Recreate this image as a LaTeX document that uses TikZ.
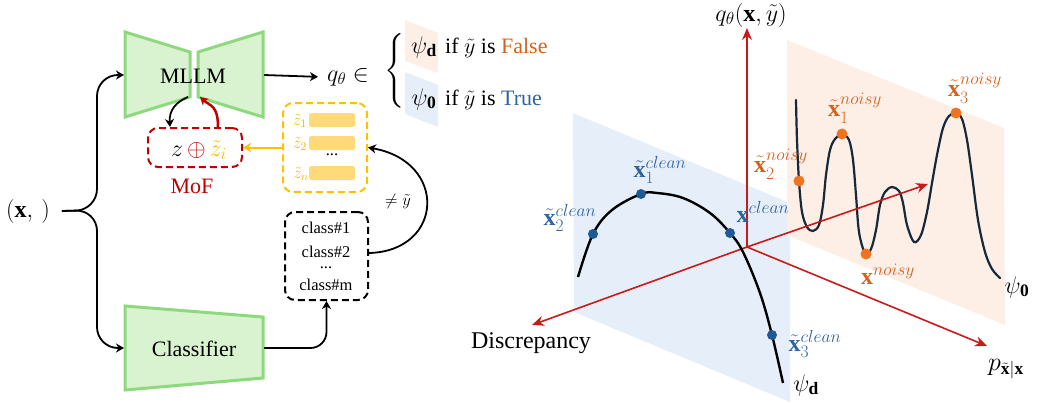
\RequirePackage{fix-cm}
\documentclass[tikz,border=0pt]{standalone}
\usepackage{amsmath}
\usepackage{fontspec}
\setmainfont{Liberation Serif}
\usetikzlibrary{arrows.meta}

% script-sized pieces of the point labels, set at a fixed size
\newcommand\lbs[1]{\text{\fontsize{17.5}{20}\selectfont$#1$}}

\definecolor{grnfill}{HTML}{D9F2D0}
\definecolor{grnline}{HTML}{8ED97E}
\definecolor{mofred}{HTML}{C00000}
\definecolor{zyel}{HTML}{FFC000}
\definecolor{zlab}{HTML}{F5B400}
\definecolor{barfill}{HTML}{FFD97A}
\definecolor{axred}{HTML}{C81A1A}
\definecolor{bluetxt}{HTML}{2E64A2}
\definecolor{bluedot}{HTML}{1F5A96}
\definecolor{orgtxt}{HTML}{D2621E}
\definecolor{orgdot}{HTML}{EE7424}
\definecolor{planeblue}{HTML}{E6EFF9}
\definecolor{planeorg}{HTML}{FDEEE6}
\definecolor{curvenavy}{HTML}{15293A}

\begin{document}
\begin{tikzpicture}[x=1pt,y=-1pt,
  trap/.style={draw=grnline, fill=grnfill, line width=3pt},
  f22/.style={font=\fontsize{22}{26}\selectfont, inner sep=0pt},
  f24/.style={font=\fontsize{24}{28}\selectfont, inner sep=0pt},
  f26/.style={font=\fontsize{26}{30}\selectfont, inner sep=0pt},
  f17/.style={font=\fontsize{16.5}{20}\selectfont, inner sep=0pt},
  tip/.style={-{Stealth[length=8pt,width=9pt,inset=2.5pt]}},
  conn/.style={line width=1.8pt, tip},
  dbox/.style={rounded corners=10pt, line width=2pt, dash pattern=on 7pt off 4pt},
  bar/.style={fill=barfill, rounded corners=2.5pt, minimum width=46pt, minimum height=14pt, inner sep=0pt},
  axis/.style={draw=axred, line width=1.6pt, -{Stealth[length=12pt,width=10pt]}},
  bdot/.style={circle, fill=bluedot, minimum size=10pt, inner sep=0pt},
  odot/.style={circle, fill=orgdot, minimum size=11pt, inner sep=0pt},
  btxt/.style={f24, text=bluetxt},
  otxt/.style={f24, text=orgtxt},
]
\useasboundingbox (0,0) rectangle (1037,402);

% ---------- left: pipeline ----------
% MLLM (two facing trapezoids)
\draw[trap] (125,32) -- (190,52) -- (190,97) -- (125,117) -- cycle;
\draw[trap] (198,52) -- (263,32) -- (263,117) -- (198,97) -- cycle;
\coordinate (mllmin) at (124,75);
\coordinate (mllmout) at (264,75);
\coordinate (mllmdown) at (188,97);
\coordinate (mllmup) at (200,97);
\node[f22, anchor=base] (mllm) at (193,83) {MLLM};

% Classifier trapezoid
\draw[trap] (125,306) -- (263,317) -- (263,378) -- (125,390) -- cycle;
\coordinate (clsin) at (124,348);
\coordinate (clsout) at (264,348);
\node[f22, anchor=base] (cls) at (194,356) {Classifier};

% input
\node[f24] (xin) at (28,211) {$(\mathbf{x},\,)$};
\draw[conn, rounded corners=21pt] ([xshift=12pt]xin.east) -- (97,210) -- (97,75) -- (mllmin);
\draw[conn, rounded corners=21pt] ([xshift=12pt]xin.east) -- (97,210) -- (97,348) -- (clsin);

% output of the MLLM
\node[f24, anchor=base west] (qin) at (327,81) {$q_\theta \in$};
\draw[conn] (mllmout) -- ([xshift=-9pt]qin.west);
\node[f24] (brace) at (395,72) {$\left\{\vrule height 33pt depth 33pt width 0pt\right.$};

\fill[planeorg] (405,20) -- (438,33) -- (438,73) -- (405,61) -- cycle;
\fill[planeblue] (405,72) -- (438,85) -- (438,127) -- (405,114) -- cycle;
\node[f24, anchor=base] (psid) at (424,53) {$\psi_{\lbs{\mathbf{d}}}$};
\node[f22, anchor=base west] (falsetxt) at (445,53) {if $\tilde{y}$ is \textcolor{orgtxt}{False}};
\node[f24, anchor=base] (psio) at (424,105) {$\psi_{\lbs{\mathbf{0}}}$};
\node[f22, anchor=base west] (truetxt) at (445,105) {if $\tilde{y}$ is \textcolor{bluetxt}{True}};

% MoF box
\node[dbox, draw=mofred, minimum width=94pt, minimum height=39pt] (zbox) at (195,147.5) {};
\node[f24, anchor=base] (zsum) at (199,156) {$z\,{\color{mofred}\oplus}\,{\color{zlab}\tilde{z}_i}$};
\node[f22, anchor=base, text=mofred] (mof) at (192,193) {MoF};
\draw[conn] (mllmdown) .. controls (176,102) and (169,110) .. ([xshift=-25pt]zbox.north);
\draw[line width=2.5pt, draw=mofred, tip]
  ([xshift=23pt]zbox.north) .. controls +(0,-22) and +(10,9) .. (mllmup);

% feature bank
\node[dbox, draw=zyel, minimum width=84pt, minimum height=89pt] (ybox) at (325,147.5) {};
\node[bar] (bar1) at (332,120) {};
\node[bar] (bar2) at (332,143) {};
\node[bar] (barn) at (332,173) {};
\node[f17, text=zlab] (z1) at (300,121) {$\tilde{z}_1$};
\node[f17, text=zlab] (z2) at (300,144) {$\tilde{z}_2$};
\node[f17, text=zlab] (zn) at (301,174) {$\tilde{z}_n$};
\node[f17] (zdots) at (332,155) {...};
\draw[line width=2pt, draw=zyel, tip] (ybox.west) -- (zbox.east);

% class list
\node[dbox, draw=black, minimum width=83pt, minimum height=88pt] (cbox) at (326.5,256) {};
\node[f17] (c1) at (326,228) {class\#1};
\node[f17] (c2) at (326,252) {class\#2};
\node[f17] (cdots) at (326,268) {...};
\node[f17] (cm) at (326,285) {class\#m};
\draw[conn, rounded corners=16pt] (clsout) -| (cbox.south);
\draw[conn] ([yshift=3pt]cbox.east) .. controls +(75,-2) and +(80,14) .. (ybox.east);
\node[f17] (neq) at (398,201) {$\neq\tilde{y}$};

% ---------- right: 3D sketch ----------
\fill[planeblue] (573,113) -- (790,203) -- (790,402) -- (574,312) -- cycle;
\fill[planeorg] (787,40) -- (1004,128) -- (1005,325) -- (787,235) -- cycle;

% psi_0 (noisy) curve
\draw[curvenavy, line width=2.2pt, line cap=round] plot[smooth, tension=0.55] coordinates {
  (796,100) (797,140) (799,181) (802,212) (807,227) (813,231) (819,225) (823,205)
  (826,175) (830,150) (835,139) (842,134) (849,140) (853,160) (856,195) (859,232)
  (865,253) (871,249) (876,230) (880,205) (885,192) (892,187) (899,191) (903,203)
  (907,225) (914,242) (921,235) (927,212) (932,183) (937,155) (943,128) (949,116)
  (956,113) (962,119) (967,140) (972,175) (978,220) (985,252) (992,269) (1000,278)};

% axes
\coordinate (O) at (747,247);
\coordinate (qtop) at (747,28);
\coordinate (dend) at (532,325);
\coordinate (pend) at (987,346);
\coordinate (uend) at (928,184);
\draw[axis] (O) -- (qtop);
\draw[axis] (O) -- (dend);
\draw[axis] (O) -- (pend);
\draw[axis] (O) -- (uend);

% psi_d (clean) curve
\draw[black, line width=2.4pt] plot[smooth, tension=0.6] coordinates {
  (578,277) (593,234) (612,210) (641,194) (657,193) (683,198) (710,213) (730,233)
  (743,252) (760,293) (772,335) (783,383)};

% points
\node[bdot] (c2p) at (593,234) {};
\node[bdot] (c1p) at (641,194) {};
\node[bdot] (cxp) at (730,233) {};
\node[bdot] (c3p) at (772,335) {};
\node[odot] (n2p) at (799,181) {};
\node[odot] (n1p) at (842,134) {};
\node[odot] (nxp) at (866,254) {};
\node[odot] (n3p) at (956,113) {};

% labels
\node[btxt] (c2l) at (570,218) {$\tilde{\mathbf{x}}_{\lbs{2}}^{\lbs{clean}}$};
\node[btxt] (c1l) at (660,170) {$\tilde{\mathbf{x}}_{\lbs{1}}^{\lbs{clean}}$};
\node[btxt] (cxl) at (763,212) {$\mathbf{x}^{\lbs{clean}}$};
\node[btxt] (c3l) at (815,344) {$\tilde{\mathbf{x}}_{\lbs{3}}^{\lbs{clean}}$};
\node[otxt] (n2l) at (781,164) {$\tilde{\mathbf{x}}_{\lbs{2}}^{\lbs{noisy}}$};
\node[otxt] (n1l) at (855,108) {$\tilde{\mathbf{x}}_{\lbs{1}}^{\lbs{noisy}}$};
\node[otxt] (n3l) at (975,88) {$\tilde{\mathbf{x}}_{\lbs{3}}^{\lbs{noisy}}$};
\node[otxt] (nxl) at (888,274) {$\mathbf{x}^{\lbs{noisy}}$};

\node[f24] (ql) at (751,15) {$q_{\lbs{\theta}}(\mathbf{x},\tilde{y})$};
\node[f24] (dl) at (531,343) {Discrepancy};
\node[f26] (pl) at (1006,369) {$p_{\lbs{\tilde{\mathbf{x}}|\mathbf{x}}}$};
\node[f24] (psi0l) at (1017,287) {$\psi_{\lbs{\mathbf{0}}}$};
\node[f24] (psidl) at (806,385) {$\psi_{\lbs{\mathbf{d}}}$};
\end{tikzpicture}
\end{document}
